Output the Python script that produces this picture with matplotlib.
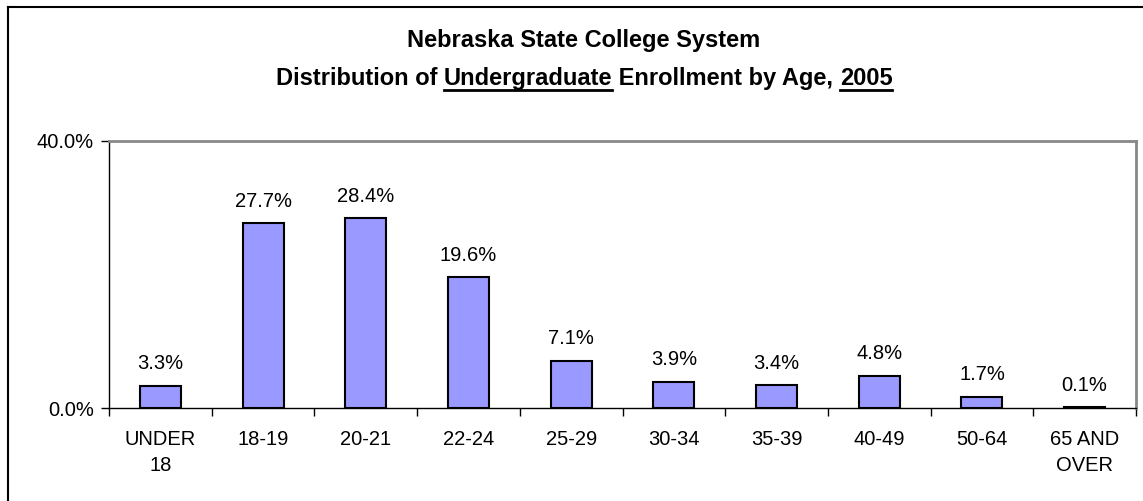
import numpy as np
import matplotlib
matplotlib.use('Agg')
import matplotlib.pyplot as plt
from matplotlib.lines import Line2D

plt.rcParams['font.family'] = ['Liberation Sans', 'DejaVu Sans']

categories = ['UNDER\n18', '18-19', '20-21', '22-24', '25-29', '30-34',
              '35-39', '40-49', '50-64', '65 AND\nOVER']
shares = [3.3, 27.7, 28.4, 19.6, 7.1, 3.9, 3.4, 4.8, 1.7, 0.1]
title_line1 = 'Nebraska State College System'
title_line2 = ['Distribution of ', 'Undergraduate', ' Enrollment by Age, ', '2005']
underlined = [False, True, False, True]

W, H = 1143, 501
fig = plt.figure(figsize=(W / 100, H / 100), dpi=100)
ax = fig.add_axes([109 / W, 1 - 408 / H, (1136 - 109) / W, (408 - 141) / H])

x = np.arange(len(categories))
ax.bar(x, shares, width=0.4, color='#9999FF', edgecolor='black', linewidth=1.5)
for xi, v in zip(x, shares):
    ax.annotate(f'{v:.1f}%', (xi, v), xytext=(0, 9), textcoords='offset points',
                ha='center', va='bottom', fontsize=14.5)

ax.set_xlim(-0.5, len(categories) - 0.5)
ax.set_ylim(0, 40)
ax.set_yticks([0, 40])
ax.set_yticklabels(['0.0%', '40.0%'], fontsize=14.5)
ax.set_xticks(x)
ax.set_xticklabels(categories, fontsize=14.5, linespacing=1.45)
ax.tick_params(axis='x', length=0, pad=16)
ax.set_xticks(np.arange(len(categories) + 1) - 0.5, minor=True)
ax.tick_params(axis='x', which='minor', length=6, width=1, color='black')
ax.tick_params(axis='y', length=6, width=1, pad=5)

for s in ['top', 'right']:
    ax.spines[s].set_color('#888888')
    ax.spines[s].set_linewidth(2)
for s in ['left', 'bottom']:
    ax.spines[s].set_color('black')
    ax.spines[s].set_linewidth(1)

# title, with two underlined words on the second line
cx = 584 / W
fig.text(cx, 1 - 47 / H, title_line1, ha='center', va='baseline',
         fontsize=17, fontweight='bold')

renderer = fig.canvas.get_renderer()
parts = []
for p in title_line2:
    t = fig.text(0, 1 - 85 / H, p, ha='left', va='baseline', fontsize=17, fontweight='bold')
    parts.append(t)
widths = [t.get_window_extent(renderer).width for t in parts]
total = sum(widths)
start = 584 - total / 2
for t, w, u in zip(parts, widths, underlined):
    t.set_x(start / W)
    if u:
        fig.add_artist(Line2D([start / W, (start + w) / W], [1 - 89.5 / H, 1 - 89.5 / H],
                              color='black', linewidth=2))
    start += w

# outer border (left and top)
fig.add_artist(Line2D([8 / W, 8 / W], [0, 1 - 7 / H], color='black', linewidth=1.5))
fig.add_artist(Line2D([8 / W, 1], [1 - 7 / H, 1 - 7 / H], color='black', linewidth=1.5))

fig.savefig('out.png', dpi=100)
